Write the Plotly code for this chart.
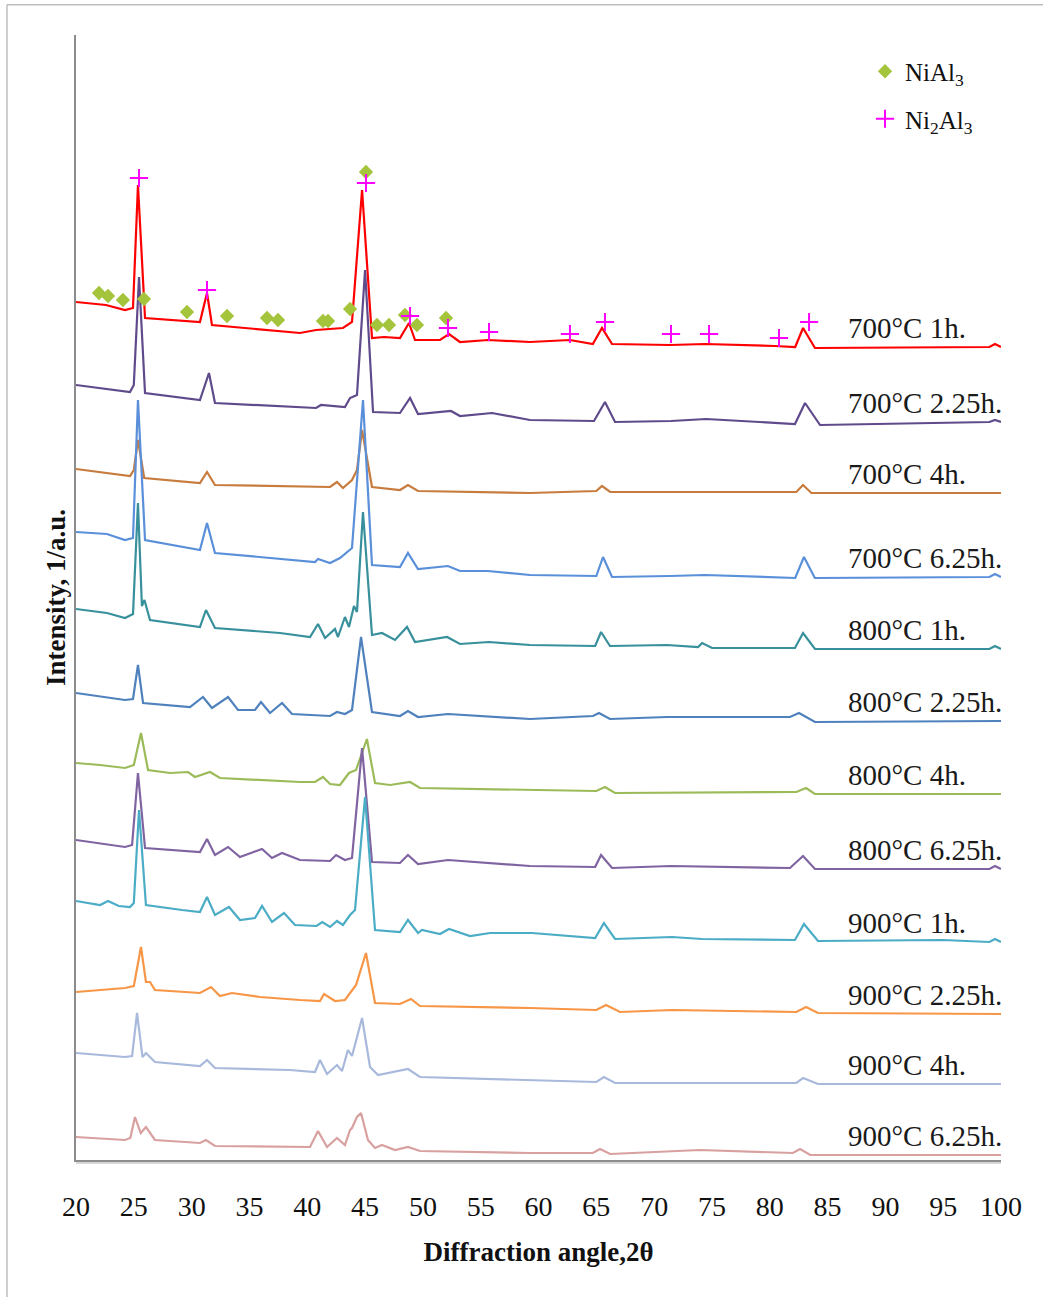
import plotly.graph_objects as go

# ---------------- data (2θ in degrees, intensity in a.u., stacked) ----------------
labels = ["700°C 1h.", "700°C 2.25h.", "700°C 4h.", "700°C 6.25h.",
          "800°C 1h.", "800°C 2.25h.", "800°C 4h.", "800°C 6.25h.",
          "900°C 1h.", "900°C 2.25h.", "900°C 4h.", "900°C 6.25h."]

a_700_1 = [20.0, 22.59, 24.24, 24.93, 25.36, 25.97, 30.72, 31.33, 31.76, 39.37, 40.76, 43.09, 43.87, 44.74,
           45.6, 46.64, 48.02, 48.8, 49.32, 51.48, 52.26, 53.21, 55.63, 59.26, 62.72, 64.7, 65.49, 66.36,
           71.37, 74.4, 80.45, 82.2, 82.88, 83.91, 99.0, 99.48, 100.0]
i_700_1 = [858, 855, 850, 852, 975, 842, 838, 867, 835, 827, 830, 832, 838, 970,
           822, 823, 822, 837, 820, 820, 826, 818, 820, 818, 820, 816, 832, 816,
           815, 816, 814, 813, 832, 812, 813, 816, 813]

a_700_2 = [20.0, 24.67, 25.0, 25.45, 25.97, 30.72, 31.5, 32.02, 40.76, 41.19, 43.26, 43.7, 44.3, 45.0,
           45.69, 48.02, 48.89, 49.58, 52.43, 53.21, 55.98, 59.26, 64.8, 65.75, 66.62, 71.46, 74.49,
           82.18, 83.05, 84.35, 99.0, 99.48, 100.0]
i_700_2 = [775, 768, 775, 883, 767, 760, 787, 757, 752, 755, 753, 762, 765, 890,
           748, 747, 762, 746, 749, 744, 747, 740, 739, 758, 738, 739, 741,
           736, 757, 735, 738, 740, 738]

a_700_4 = [20.0, 24.67, 25.0, 25.36, 25.9, 30.72, 31.33, 32.02, 41.97, 42.57, 43.09, 43.87, 44.3, 44.74,
           45.6, 48.02, 48.71, 49.58, 59.26, 65.0, 65.49, 66.2, 82.3, 82.88, 83.6, 100.0]
i_700_4 = [691, 684, 690, 720, 682, 677, 688, 675, 673, 678, 672, 680, 690, 730,
           673, 670, 675, 669, 667, 669, 674, 668, 668, 675, 667, 667]

a_700_6 = [20.0, 22.68, 24.24, 24.93, 25.36, 25.97, 30.72, 31.33, 32.02, 40.67, 40.93, 41.97, 42.83, 43.87,
           44.82, 45.6, 48.02, 48.71, 49.58, 52.17, 53.21, 55.63, 59.26, 65.0, 65.58, 66.36, 71.37, 74.4,
           82.2, 82.96, 83.9, 99.0, 99.48, 100.0]
i_700_6 = [628, 626, 620, 622, 760, 620, 610, 637, 607, 598, 601, 597, 602, 612,
           760, 595, 593, 607, 591, 594, 589, 589, 585, 584, 603, 583, 584, 585,
           582, 603, 582, 583, 586, 583]

a_800_1 = [20.0, 22.68, 24.24, 24.93, 25.36, 25.7, 25.92, 26.4, 30.72, 31.24, 32.02, 37.64, 40.24, 40.93,
           41.54, 42.4, 42.66, 43.26, 43.61, 44.04, 44.3, 44.82, 45.6, 46.46, 47.59, 48.63, 49.32, 52.09,
           53.21, 55.72, 59.26, 64.9, 65.41, 66.18, 71.11, 73.8, 74.15, 75.01, 82.18, 82.88, 83.91,
           99.0, 99.48, 100.0]
i_800_1 = [551, 547, 542, 546, 657, 554, 560, 540, 533, 550, 532, 527, 523, 536,
           522, 531, 523, 543, 533, 554, 548, 648, 525, 527, 520, 533, 518, 523,
           516, 518, 515, 514, 528, 514, 515, 513, 517, 512, 512, 527, 511,
           511, 514, 511]

a_800_2 = [20.0, 24.24, 24.93, 25.36, 25.8, 29.86, 30.98, 31.76, 33.15, 34.01, 35.48, 36.0, 36.78, 37.82,
           38.68, 41.97, 42.57, 43.26, 43.87, 44.2, 44.65, 45.6, 48.02, 48.71, 49.58, 52.17, 59.26, 64.71,
           65.23, 66.18, 71.11, 81.75, 82.53, 83.91, 100.0]
i_800_2 = [467, 460, 461, 495, 457, 453, 463, 452, 463, 450, 450, 458, 447, 457,
           446, 444, 448, 446, 450, 480, 523, 448, 444, 449, 443, 446, 441, 444,
           447, 441, 443, 443, 447, 438, 439]

a_800_4 = [20.0, 22.08, 24.24, 25.0, 25.62, 26.23, 28.13, 29.69, 30.29, 31.59, 32.45, 39.37, 40.67, 41.36,
           41.97, 42.83, 43.61, 44.22, 45.16, 45.86, 47.16, 48.89, 49.75, 59.26, 65.0, 65.75, 66.62,
           82.3, 83.14, 83.9, 100.0]
i_800_4 = [397, 395, 392, 395, 427, 390, 387, 388, 383, 388, 382, 378, 378, 383,
           376, 375, 387, 390, 421, 377, 375, 378, 372, 370, 369, 373, 367,
           368, 372, 366, 366]

a_800_6 = [20.0, 24.24, 24.85, 25.36, 25.97, 30.72, 31.33, 32.02, 33.15, 34.18, 36.09, 36.95, 37.82, 39.37,
           41.97, 42.49, 43.26, 43.87, 44.74, 45.6, 48.02, 48.71, 49.58, 52.17, 59.26, 64.9, 65.41, 66.36,
           71.46, 81.75, 82.88, 83.91, 99.0, 99.48, 100.0]
i_800_6 = [320, 313, 315, 387, 312, 308, 321, 305, 313, 303, 311, 302, 307, 300,
           299, 305, 300, 302, 412, 298, 297, 305, 296, 300, 294, 293, 305, 292,
           294, 292, 304, 291, 291, 294, 291]

a_900_1 = [20.0, 22.08, 22.77, 23.7, 24.67, 25.0, 25.45, 26.05, 29.17, 30.72, 31.33, 32.02, 33.23, 34.18,
           35.48, 36.09, 36.95, 37.99, 38.94, 40.8, 41.3, 41.97, 42.57, 43.09, 43.7, 44.13, 45.0, 45.86,
           48.02, 48.71, 49.58, 49.92, 51.48, 52.26, 54.08, 55.81, 59.44, 64.9, 65.66, 66.62, 71.55,
           74.15, 82.18, 82.96, 84.17, 94.98, 99.0, 99.48, 100.0]
i_900_1 = [259, 255, 259, 254, 253, 257, 350, 255, 250, 248, 263, 245, 253, 240,
           242, 254, 238, 247, 235, 234, 238, 233, 239, 235, 245, 250, 363, 230,
           228, 240, 227, 230, 226, 231, 224, 227, 227, 222, 237, 221, 223,
           221, 220, 236, 219, 220, 218, 221, 218]

a_900_2 = [20.0, 24.24, 25.0, 25.62, 26.05, 26.4, 26.83, 30.72, 31.68, 32.45, 33.49, 35.91, 39.37, 41.1,
           41.45, 42.4, 43.26, 43.7, 44.22, 45.08, 45.86, 48.02, 48.97, 49.75, 59.26, 65.0, 65.84, 67.05,
           71.55, 82.3, 83.14, 84.17, 100.0]
i_900_2 = [168, 172, 174, 213, 178, 178, 170, 167, 173, 164, 167, 163, 160, 159,
           166, 159, 160, 167, 175, 207, 157, 156, 161, 154, 152, 150, 155, 148,
           150, 148, 153, 147, 146]

a_900_4 = [20.0, 24.24, 24.85, 25.28, 25.75, 26.05, 26.83, 30.72, 31.33, 32.02, 38.51, 40.67, 41.1, 41.71,
           42.57, 43.01, 43.52, 43.87, 44.74, 45.43, 46.12, 48.71, 49.75, 59.26, 65.0, 65.66, 66.62,
           82.3, 82.88, 84.17, 100.0]
i_900_4 = [107, 103, 104, 147, 103, 107, 98, 94, 100, 92, 90, 88, 100, 86,
           95, 89, 110, 104, 142, 93, 85, 91, 83, 80, 78, 83, 77,
           77, 82, 76, 76]

a_900_6 = [20.0, 24.24, 24.7, 25.1, 25.6, 26.05, 26.83, 30.72, 31.24, 32.02, 40.24, 40.93, 41.71, 42.57,
           43.26, 43.7, 43.87, 44.3, 44.65, 45.25, 45.86, 46.46, 47.59, 48.71, 49.75, 59.26, 64.7, 65.32,
           66.2, 73.97, 82.0, 82.62, 83.5, 100.0]
i_900_6 = [23, 20, 22, 43, 27, 33, 20, 17, 20, 14, 13, 29, 13, 22,
           15, 30, 32, 43, 47, 20, 12, 15, 10, 13, 9, 7, 7, 11,
           6, 10, 7, 11, 5, 5]

angles = [a_700_1, a_700_2, a_700_4, a_700_6, a_800_1, a_800_2, a_800_4, a_800_6,
          a_900_1, a_900_2, a_900_4, a_900_6]
intens = [i_700_1, i_700_2, i_700_4, i_700_6, i_800_1, i_800_2, i_800_4, i_800_6,
          i_900_1, i_900_2, i_900_4, i_900_6]

# phase markers on the 700°C 1h pattern
niAl3_angle = [21.99, 22.77, 24.06, 25.88, 29.6, 33.06, 36.52, 37.47, 41.36, 41.8, 43.7, 45.08,
               46.03, 47.07, 48.45, 49.49, 52.0]
niAl3_int = [867, 864, 860, 861, 848, 844, 842, 840, 839, 839, 851, 988,
             835, 835, 845, 835, 842]
ni2Al3_angle = [25.45, 31.33, 45.08, 48.89, 52.17, 55.72, 62.72, 65.75, 71.46, 74.75, 80.8, 83.4]
ni2Al3_int = [982, 870, 977, 844, 832, 828, 826, 838, 826, 826, 822, 838]

x_ticks = [20, 25, 30, 35, 40, 45, 50, 55, 60, 65, 70, 75, 80, 85, 90, 95, 100]

# ---------------- styling ----------------
colors = ["#ff0000", "#5f4a8b", "#c77c3e", "#5a8fda", "#37909b", "#4f81bd",
          "#9bbb59", "#8064a2", "#4bacc6", "#f79646", "#a8b9dc", "#d9a0a0"]
SERIF = "Liberation Serif, Times New Roman, serif"
LABEL_OFFSET = 19

fig = go.Figure()
for name, a, i, c in zip(labels, angles, intens, colors):
    fig.add_trace(go.Scatter(x=a, y=i, mode="lines", name=name, showlegend=False,
                             line=dict(color=c, width=2.2)))

fig.add_trace(go.Scatter(x=niAl3_angle, y=niAl3_int, mode="markers", name="NiAl<sub>3</sub>",
                         legendgroup="a",
                         marker=dict(symbol="diamond", size=11, color="#a4c43c")))
fig.add_trace(go.Scatter(x=ni2Al3_angle, y=ni2Al3_int, mode="markers", name="Ni<sub>2</sub>Al<sub>3</sub>",
                         legendgroup="b",
                         marker=dict(symbol="cross-thin", size=13, color="#ff00ff",
                                     line=dict(color="#ff00ff", width=2))))

for name, i in zip(labels, intens):
    fig.add_annotation(x=86.6, y=i[-1] + LABEL_OFFSET, xref="x", yref="y", text=name,
                       showarrow=False, xanchor="left", yanchor="middle",
                       font=dict(family=SERIF, size=29, color="#1a1a1a"))

# outer chart border (left & top)
fig.add_shape(type="line", xref="paper", yref="paper", x0=-0.0746, x1=-0.0746, y0=1.027, y1=-0.125,
              line=dict(color="#bdbdbd", width=1.5))
fig.add_shape(type="line", xref="paper", yref="paper", x0=-0.0746, x1=1.05, y0=1.027, y1=1.027,
              line=dict(color="#bdbdbd", width=1.5))
# faint shadow under the category axis
fig.add_shape(type="line", xref="paper", yref="paper", x0=0, x1=1, y0=-0.0027, y1=-0.0027,
              line=dict(color="#c8c8c8", width=1.5))

fig.update_layout(
    width=1043, height=1297,
    margin=dict(l=76, r=42, t=35, b=137),
    paper_bgcolor="white", plot_bgcolor="white",
    font=dict(family=SERIF, color="#111111"),
    legend=dict(x=0.853, y=0.988, xanchor="left", yanchor="top", tracegroupgap=12,
                font=dict(family=SERIF, size=25, color="#111111"), bgcolor="rgba(0,0,0,0)"),
    xaxis=dict(range=[20, 100], tickvals=x_ticks, ticktext=[str(t) for t in x_ticks],
               showgrid=False, zeroline=False, showline=True, linecolor="#8c8c8c", linewidth=2,
               ticks="", ticklabelstandoff=20, tickfont=dict(family=SERIF, size=28, color="#111111"),
               title=dict(text="<b>Diffraction angle,2θ</b>", standoff=22,
                          font=dict(family=SERIF, size=27, color="#111111"))),
    yaxis=dict(range=[0, 1125], showticklabels=False, showgrid=False, zeroline=False,
               showline=True, linecolor="#8c8c8c", linewidth=2, ticks="",
               title=dict(text="<b>Intensity, 1/a.u.</b>", standoff=1,
                          font=dict(family=SERIF, size=27, color="#111111"))),
)

fig.write_html("out.html")
